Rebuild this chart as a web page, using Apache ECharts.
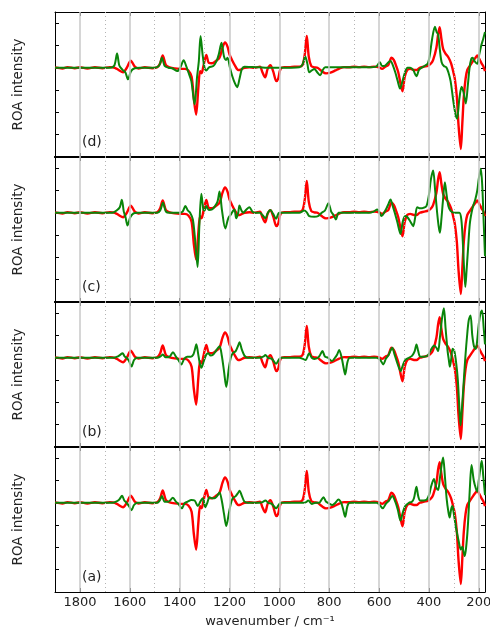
<!DOCTYPE html>
<html>
<head>
<meta charset="utf-8">
<script src="https://cdn.jsdelivr.net/npm/echarts@6/dist/echarts.min.js"></script>
<style>html,body{margin:0;padding:0;background:#fff}#c{width:490px;height:627px}</style>
</head>
<body>
<div id="c"></div>
<script>
// x tick labels (wavenumber / cm^-1)
const xTickValues = [1800, 1600, 1400, 1200, 1000, 800, 600, 400, 200];
const xMinorValues = [1700, 1500, 1300, 1100, 900, 700, 500, 300];
const panelLabels = ['(d)', '(c)', '(b)', '(a)'];

// experimental ROA spectrum (red), same in all panels: [wavenumber, intensity]
const redExp = [
 [1900,0.02],[1870,-0.03],[1850,0.03],[1820,-0.02],[1800,0.02],[1770,-0.03],[1740,0.02],[1710,-0.02],[1680,0.03],[1660,0],
 [1645,-0.1],[1627,-0.2],[1612,0],[1596,0.32],[1580,0.05],[1565,-0.03],[1540,0.02],[1510,-0.02],[1490,0.02],[1478,0.2],
 [1468,0.55],[1455,0.12],[1440,0.02],[1420,-0.03],[1400,-0.05],[1380,-0.05],[1365,-0.12],[1352,-0.4],[1343,-1.4],[1334,-2.1],
 [1325,-0.9],[1318,-0.15],[1312,-0.25],[1305,0.05],[1293,0.57],[1283,0.22],[1270,0.2],[1255,0.3],[1240,0.45],[1228,0.9],
 [1218,1.13],[1208,0.95],[1200,0.6],[1190,0.35],[1178,0.1],[1165,-0.1],[1155,-0.08],[1140,0],[1120,0.02],[1100,0],
 [1078,0.05],[1068,-0.2],[1057,-0.43],[1047,-0.05],[1036,0.12],[1025,-0.15],[1012,-0.6],[1005,-0.5],[995,-0.05],[980,0.03],
 [960,0.03],[940,0.05],[920,0.05],[907,0.12],[898,0.6],[890,1.43],[882,0.5],[872,0.08],[860,0.02],[847,0],
 [830,-0.15],[813,-0.25],[795,-0.22],[775,-0.12],[760,-0.04],[740,0.03],[720,0.02],[700,0.05],[680,0.03],[660,0.05],
 [640,0.03],[620,0.05],[600,0.02],[588,-0.05],[575,0.05],[563,0.12],[550,0.45],[541,0.35],[532,0.1],[523,-0.2],
 [514,-0.7],[506,-1.05],[497,-0.4],[487,-0.1],[475,-0.05],[460,-0.1],[450,-0.1],[437,0],[420,0.05],[403,0.1],
 [391,0.2],[383,0.35],[370,0.9],[363,1.5],[357,1.82],[350,1.3],[343,0.85],[334,0.65],[321,0.45],[311,0.2],
 [304,-0.1],[296,-0.5],[288,-1.3],[281,-2.6],[272,-3.64],[266,-2.5],[260,-1.3],[253,-0.5],[246,-0.1],[235,0.1],
 [223,0.3],[213,0.45],[206,0.55],[198,0.4],[189,0.2],[181,0.05],[175,-0.15]
];

// calculated spectra (green), one per panel
const greenD = [
 [1900,0],[1680,0],[1662,0.1],[1651,0.64],[1642,0.1],[1630,-0.08],[1618,-0.2],[1607,-0.52],[1595,-0.15],[1580,-0.02],
 [1560,0],[1500,0],[1482,0.1],[1471,0.45],[1460,0.08],[1445,0],[1430,-0.02],[1409,-0.15],[1396,0.05],[1384,0.34],
 [1373,0.05],[1365,-0.2],[1353,-0.6],[1340,-1.64],[1330,-0.4],[1323,0.3],[1316,1.42],[1308,0.6],[1300,0.0],[1293,-0.12],
 [1282,0.02],[1265,0.08],[1252,0.3],[1243,0.6],[1232,1.12],[1222,0.5],[1214,0.35],[1208,0.45],[1198,0.0],[1188,-0.4],
 [1178,-0.7],[1169,-0.87],[1160,-0.5],[1150,-0.05],[1140,0.05],[1110,0.03],[1080,0.02],[1050,0],[1000,0],[950,0],
 [920,0.02],[907,0.15],[896,0.5],[888,0.2],[880,-0.2],[870,-0.12],[860,-0.05],[848,-0.2],[836,-0.34],[826,-0.1],
 [816,0.02],[780,0.02],[700,0.02],[640,0.02],[612,0.05],[597,0.25],[588,0.08],[575,0.1],[562,0.25],[554,0.3],
 [545,0.12],[535,-0.2],[525,-0.6],[516,-0.93],[506,-0.6],[496,-0.2],[486,0.0],[475,0.0],[463,-0.1],[450,-0.38],
 [440,-0.1],[430,0.0],[415,0.1],[404,0.2],[396,0.6],[387,1.3],[376,1.84],[369,1.6],[363,1.5],[356,0.8],
 [349,0.25],[340,0.08],[330,0.02],[322,-0.2],[313,-0.6],[302,-1.5],[293,-2.1],[287,-2.28],[278,-1.4],[269,-0.85],
 [261,-1.1],[252,-1.6],[244,-0.8],[237,0.0],[230,0.4],[225,0.45],[217,0.3],[206,0.18],[198,0.6],[190,1.0],
 [182,1.3],[175,1.6]
];
const greenC = [
 [1900,0],[1670,0],[1653,0.1],[1640,0.25],[1632,0.58],[1624,0.05],[1617,-0.2],[1609,-0.57],[1598,-0.2],[1585,-0.03],
 [1570,0],[1490,0],[1478,0.1],[1467,0.45],[1455,0.05],[1440,0],[1400,0],[1388,0.05],[1377,0.3],[1367,0.1],
 [1358,0.0],[1347,-0.3],[1338,-1.2],[1328,-2.43],[1321,-0.6],[1313,0.85],[1305,0.15],[1300,0.1],[1293,0.3],[1283,0.12],
 [1270,0.15],[1258,0.3],[1248,0.5],[1240,0.95],[1230,0.1],[1217,-0.7],[1205,-0.25],[1193,-0.05],[1185,0.1],[1180,0.15],
 [1173,-0.25],[1165,0.0],[1160,0.33],[1152,0.1],[1145,0.0],[1132,0.15],[1120,0.25],[1108,0.05],[1095,0],[1078,0.0],
 [1068,-0.1],[1056,-0.25],[1046,0.0],[1036,0.12],[1025,-0.05],[1013,-0.27],[1000,0],[920,0],[900,0.1],[890,0.02],
 [880,-0.15],[860,-0.18],[845,-0.15],[830,0],[817,0.1],[803,0.43],[792,0.05],[783,-0.1],[773,-0.3],[762,0],
 [740,0],[640,0],[622,0.05],[607,0.15],[598,0.0],[590,-0.15],[580,0.0],[570,0.2],[562,0.4],[554,0.6],
 [545,0.3],[537,0.0],[527,-0.4],[514,-0.95],[505,-0.4],[495,-0.15],[486,-0.2],[474,-0.4],[463,-0.6],[455,-0.2],
 [447,0.25],[435,0.2],[422,0.22],[410,0.3],[400,0.8],[392,1.5],[383,1.9],[375,1.0],[367,0.0],[361,-0.6],
 [356,-0.9],[350,-0.3],[344,0.5],[336,1.37],[329,0.8],[322,0.3],[313,0.08],[300,0.0],[278,0.0],[270,-0.3],
 [264,-1.3],[259,-2.5],[254,-3.33],[249,-2.6],[243,-1.6],[236,-0.5],[229,0.0],[222,0.33],[214,0.6],[206,1.0],
 [199,1.6],[192,1.97],[186,1.2],[180,-0.5],[175,-1.95]
];
const greenB = [
 [1900,0],[1665,0],[1650,0.05],[1640,0.12],[1629,0.2],[1620,0.05],[1612,0.0],[1603,-0.15],[1593,-0.39],[1583,-0.1],
 [1570,0],[1490,0],[1478,0.05],[1467,0.15],[1457,0.02],[1440,0.05],[1427,0.25],[1415,0.05],[1405,-0.1],[1393,-0.3],
 [1382,-0.05],[1370,0.05],[1355,0.05],[1345,0.15],[1338,0.4],[1333,0.61],[1326,0.2],[1320,-0.2],[1313,-0.45],[1303,-0.15],
 [1293,0.15],[1285,0.2],[1276,0.1],[1265,0.15],[1255,0.3],[1240,0.52],[1231,0.1],[1222,-0.6],[1213,-1.31],[1203,-0.5],
 [1195,0.0],[1187,0.2],[1175,0.3],[1165,0.55],[1160,0.7],[1150,0.35],[1140,0.1],[1127,0.0],[1080,0.0],[1065,0.05],
 [1056,0.12],[1045,0.0],[1030,-0.05],[1013,-0.27],[1000,-0.05],[990,0],[920,0],[905,-0.05],[895,-0.1],[880,0.2],
 [870,0.0],[860,-0.05],[845,0.0],[838,0.1],[827,0.3],[817,0.05],[805,0.0],[789,-0.15],[777,0.0],[768,0.15],
 [760,0.35],[750,0.0],[743,-0.4],[736,-0.75],[727,-0.2],[718,0.0],[700,0],[610,0],[595,-0.1],[583,-0.3],
 [573,-0.05],[563,0.1],[555,0.3],[547,0.45],[538,0.15],[528,-0.2],[520,-0.45],[514,-0.6],[505,-0.35],[495,-0.1],
 [480,0.0],[467,0.1],[457,0.3],[450,0.6],[443,0.3],[435,0.05],[420,0.05],[405,0.1],[392,0.35],[379,0.55],
 [370,0.45],[363,0.3],[356,0.9],[347,1.8],[340,2.22],[333,1.3],[325,0.3],[320,-0.1],[316,-0.4],[311,-0.1],
 [305,0.4],[298,0.3],[290,-0.3],[284,-1.0],[278,-2.2],[273,-3.03],[267,-2.2],[261,-1.2],[254,0.0],[246,1.1],
 [240,1.7],[233,1.9],[226,1.0],[219,0.5],[212,0.4],[207,0.7],[200,1.5],[193,2.0],[187,2.12],[180,1.3],
 [175,0.6]
];
const greenA = [
 [1900,0],[1670,0],[1655,0.05],[1642,0.15],[1631,0.31],[1622,0.1],[1613,0.0],[1603,-0.15],[1593,-0.33],[1583,-0.1],
 [1570,0],[1490,0],[1480,0.1],[1471,0.3],[1460,0.05],[1445,0.05],[1427,0.22],[1415,0.05],[1405,-0.05],[1391,-0.25],
 [1380,-0.02],[1368,0.05],[1353,0.12],[1340,0.1],[1327,-0.15],[1317,0.05],[1307,0.2],[1297,-0.2],[1289,0.0],[1280,0.25],
 [1270,0.2],[1260,0.2],[1250,0.3],[1240,0.46],[1231,0.1],[1222,-0.5],[1213,-1.04],[1203,-0.5],[1195,-0.05],[1187,0.2],
 [1175,0.3],[1165,0.45],[1160,0.54],[1150,0.3],[1140,0.05],[1127,0.0],[1080,0.0],[1068,0.03],[1056,0.1],[1045,0.0],
 [1030,-0.05],[1013,-0.25],[1000,-0.05],[990,0],[900,0],[893,0.03],[884,0.1],[870,-0.05],[855,0.0],[840,0.0],
 [833,0.1],[823,0.25],[813,0.05],[805,0.0],[787,-0.1],[775,0.0],[763,0.15],[752,0.0],[744,-0.3],[736,-0.63],
 [727,-0.15],[718,0.0],[700,0],[610,0],[597,-0.1],[585,-0.25],[573,-0.05],[560,0.1],[547,0.3],[535,0.05],
 [525,-0.3],[514,-0.8],[505,-0.45],[495,-0.15],[480,0.0],[468,0.05],[460,0.2],[450,0.72],[443,0.3],[435,0.1],
 [420,0.1],[408,0.15],[398,0.4],[392,0.7],[380,1.07],[371,0.7],[363,0.57],[356,1.1],[349,1.7],[343,2.03],
 [336,1.2],[329,0.2],[322,-0.4],[317,-0.66],[311,-0.3],[306,-0.15],[300,-0.5],[290,-1.2],[281,-1.7],[272,-2.1],
 [266,-1.97],[261,-2.2],[256,-2.39],[249,-1.8],[243,-0.9],[236,0.6],[229,1.69],[220,1.0],[212,0.65],[206,0.5],
 [200,1.0],[193,1.6],[188,1.88],[182,1.2],[175,0.34]
];

const greenPanels = [greenD, greenC, greenB, greenA];

const FONT = 'DejaVu Sans';
const TXT = '#222';
const X_MIN = 175, X_MAX = 1900;
const PANEL_TOP = 12, PANEL_H = 145;

const grids = [], xAxes = [], yAxes = [], series = [], graphics = [];
greenPanels.forEach((green, i) => {
  grids.push({left: 55, right: 5, top: PANEL_TOP + PANEL_H * i, height: PANEL_H,
              containLabel: false, outerBoundsMode: 'none'});
  const last = i === greenPanels.length - 1;
  const baseX = {
    gridIndex: i, type: 'value', min: X_MIN, max: X_MAX, inverse: true,
    splitLine: {show: false}, minorTick: {show: false}
  };
  xAxes.push(Object.assign({}, baseX, {
    position: 'bottom',
    axisLine: {show: true, onZero: false, lineStyle: {color: '#000', width: last ? 1 : 2}},
    axisTick: {show: true, inside: true, length: 4, customValues: xTickValues, lineStyle: {color: '#000', width: 1}},
    axisLabel: {show: last, customValues: xTickValues, margin: 4, fontFamily: FONT, fontSize: 13, color: TXT,
                formatter: v => String(v), hideOverlap: false},
    name: last ? 'wavenumber / cm\u207B\u00B9' : '',
    nameLocation: 'middle', nameGap: 23,
    nameTextStyle: {fontFamily: FONT, fontSize: 13, color: TXT}
  }));
  xAxes.push(Object.assign({}, baseX, {
    position: 'top',
    axisLine: {show: true, onZero: false, lineStyle: {color: '#000', width: i === 0 ? 1 : 2}},
    axisTick: {show: true, inside: true, length: 4, customValues: xTickValues, lineStyle: {color: '#000', width: 1}},
    axisLabel: {show: false}
  }));
  const baseY = {
    gridIndex: i, type: 'value', min: -4, max: 2.5, interval: 1,
    splitLine: {show: false},
    axisLabel: {show: false},
    axisTick: {show: true, inside: true, length: 4, lineStyle: {color: '#000', width: 1}},
    axisLine: {show: true, onZero: false, lineStyle: {color: '#000', width: 1}}
  };
  yAxes.push(Object.assign({}, baseY, {
    position: 'left',
    name: 'ROA intensity', nameLocation: 'middle', nameGap: 30,
    nameTextStyle: {fontFamily: FONT, fontSize: 13.5, color: TXT}
  }));
  yAxes.push(Object.assign({}, baseY, {position: 'right'}));

  // vertical grid lines (major solid, minor dotted)
  const mlData = xTickValues.map(v => ({xAxis: v, lineStyle: {color: '#c8c8c8', width: 1.5, type: 'solid'}}))
    .concat(xMinorValues.map(v => ({xAxis: v, lineStyle: {color: '#b4b4b4', width: 1, type: [1, 3]}})));
  series.push({
    type: 'line', xAxisIndex: 2 * i, yAxisIndex: 2 * i, data: [], z: 0, silent: true,
    markLine: {silent: true, symbol: 'none', label: {show: false}, animation: false, data: mlData}
  });
  series.push({
    name: 'experiment', type: 'line', xAxisIndex: 2 * i, yAxisIndex: 2 * i, data: redExp,
    showSymbol: false, smooth: 0.3, z: 2,
    lineStyle: {color: '#ff0000', width: 2.4}
  });
  series.push({
    name: 'calculation', type: 'line', xAxisIndex: 2 * i, yAxisIndex: 2 * i, data: green,
    showSymbol: false, smooth: 0.3, z: 3,
    lineStyle: {color: '#0a850a', width: 2}
  });
  graphics.push({
    type: 'text', left: 82, top: PANEL_TOP + PANEL_H * (i + 1) - 22,
    style: {text: panelLabels[i], font: '14px "DejaVu Sans"', fill: TXT}
  });
});

const chart = echarts.init(document.getElementById('c'), null, {renderer: 'canvas'});
chart.setOption({
  animation: false,
  backgroundColor: '#fff',
  grid: grids, xAxis: xAxes, yAxis: yAxes, series: series, graphic: graphics
});
</script>
</body>
</html>
